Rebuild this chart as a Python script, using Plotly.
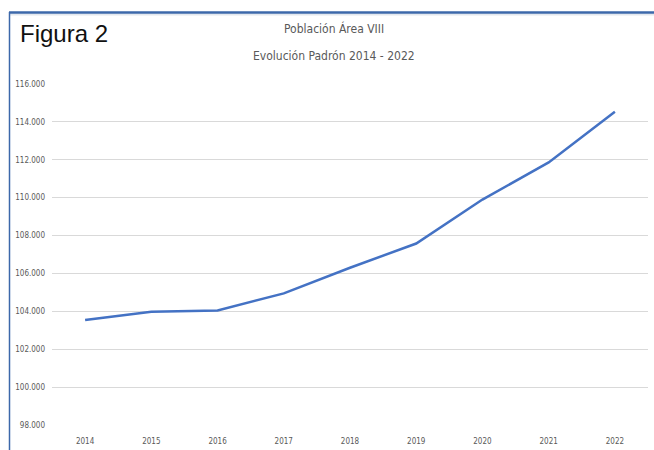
import plotly.graph_objects as go

# Población empadronada por año (habitantes)
years = ["2014", "2015", "2016", "2017", "2018", "2019", "2020", "2021", "2022"]
population = [103540, 103980, 104050, 104950, 106300, 107580, 109900, 111860, 114530]
y_ticks = [98000, 100000, 102000, 104000, 106000, 108000, 110000, 112000, 114000, 116000]

W, H = 654, 450
L, R, T, B = 52, 6, 84, 25
pw, ph = W - L - R, H - T - B


def px_x(px):
    return (px - L) / pw


def px_y(py):
    return (H - B - py) / ph


label_font = "Liberation Sans Narrow, DejaVu Sans Condensed, Arial Narrow, sans-serif"

fig = go.Figure()
fig.add_trace(go.Scatter(
    x=years, y=population, mode="lines",
    line=dict(color="#4472C4", width=2.5),
    showlegend=False, hoverinfo="x+y",
))

fig.update_layout(
    width=W, height=H,
    margin=dict(l=L, r=R, t=T, b=B),
    paper_bgcolor="white", plot_bgcolor="white",
    separators=",.",
    xaxis=dict(
        type="category", range=[-0.5, len(years) - 0.5], automargin=False,
        showgrid=False, showline=False, zeroline=False,
        ticks="", ticklabelstandoff=10,
        tickfont=dict(family=label_font, size=8, color="#595959"),
    ),
    yaxis=dict(
        range=[y_ticks[0], y_ticks[-1]], tickvals=y_ticks, tickformat=",d",
        automargin=False,
        showgrid=True, gridcolor="#d9d9d9", gridwidth=1,
        showline=False, zeroline=False, ticks="", ticklabelstandoff=6,
        tickfont=dict(family=label_font, size=8, color="#595959"),
    ),
    shapes=[
        dict(type="line", xref="paper", yref="paper",
             x0=px_x(9), x1=px_x(W), y0=px_y(14.5), y1=px_y(14.5),
             line=dict(color="#e3e8ee", width=2)),
        dict(type="line", xref="paper", yref="paper",
             x0=px_x(9), x1=px_x(W), y0=px_y(12.5), y1=px_y(12.5),
             line=dict(color="#3c68aa", width=2.5)),
        dict(type="line", xref="paper", yref="paper",
             x0=px_x(9.5), x1=px_x(9.5), y0=px_y(12), y1=px_y(H),
             line=dict(color="#3c68aa", width=1.5)),
    ],
    annotations=[
        dict(text="Figura 2", xref="paper", yref="paper",
             x=px_x(18), y=px_y(34), xanchor="left", yanchor="middle",
             showarrow=False,
             font=dict(family="Liberation Sans, Arial, sans-serif", size=24, color="#111111")),
        dict(text="Población Área VIII", xref="paper", yref="paper",
             x=px_x(334), y=px_y(29), xanchor="center", yanchor="middle",
             showarrow=False,
             font=dict(family=label_font, size=12, color="#595959")),
        dict(text="Evolución Padrón 2014 - 2022", xref="paper", yref="paper",
             x=px_x(334), y=px_y(56), xanchor="center", yanchor="middle",
             showarrow=False,
             font=dict(family=label_font, size=12, color="#595959")),
    ],
)

fig.write_html("out.html")
